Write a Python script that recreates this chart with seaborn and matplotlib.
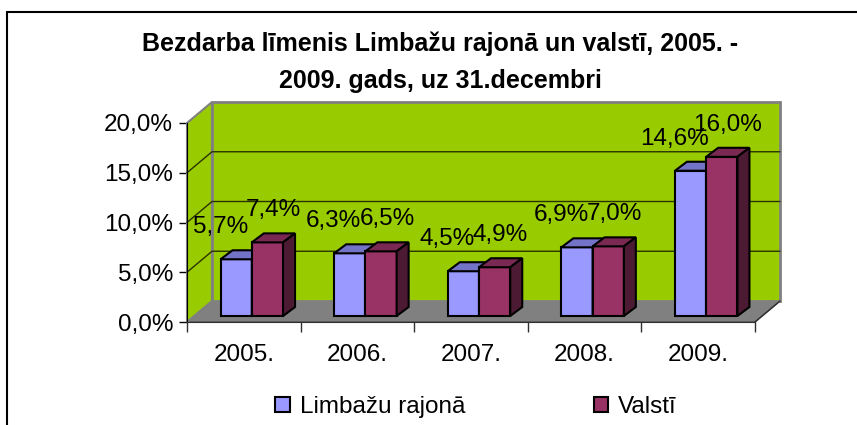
import seaborn as sns
import matplotlib.pyplot as plt
import pandas as pd
from matplotlib.patches import Polygon, Rectangle, Patch
from matplotlib.lines import Line2D
from matplotlib.transforms import offset_copy

sns.set_style("white")
plt.rcParams['font.family'] = ['Liberation Sans', 'DejaVu Sans']
plt.rcParams['text.color'] = 'black'
plt.rcParams['xtick.color'] = 'black'
plt.rcParams['ytick.color'] = 'black'

# data
years = ["2005.", "2006.", "2007.", "2008.", "2009."]
limbazi = [5.7, 6.3, 4.5, 6.9, 14.6]
valsti = [7.4, 6.5, 4.9, 7.0, 16.0]
series = ["Limbažu rajonā", "Valstī"]
title = "Bezdarba līmenis Limbažu rajonā un valstī, 2005. -\n2009. gads, uz 31.decembri"

front_cols = ["#9999FF", "#993366"]
top_cols = ["#7373C8", "#7A2952"]
side_cols = ["#5C5CA0", "#4D1A33"]
green = "#99CC00"
grey = "#808080"

df = pd.DataFrame({
    "year": years * 2,
    "value": limbazi + valsti,
    "series": [series[0]] * len(years) + [series[1]] * len(years),
})

fig = plt.figure(figsize=(8.57, 4.25), dpi=100)
ax = fig.add_axes([187 / 857, 103 / 425, 568 / 857, 199 / 425])
ax.set_xlim(-0.5, 4.5)
ax.set_ylim(0, 20)

# pixel -> data helpers
ppx = 568 / 5.0
ppy = 199 / 20.0
BDX, BDY = 25 / ppx, 21 / ppy      # back wall depth
DDX, DDY = 12 / ppx, 9 / ppy       # bar depth

# floor
ax.add_patch(Polygon([(-0.5, 0), (4.5, 0), (4.5 + BDX, BDY), (-0.5 + BDX, BDY)],
                     closed=True, facecolor=grey, edgecolor="#505050", lw=1,
                     clip_on=False, zorder=0.5))
# left wall
ax.add_patch(Polygon([(-0.5, 0), (-0.5, 20), (-0.5 + BDX, 20 + BDY), (-0.5 + BDX, BDY)],
                     closed=True, facecolor=green, edgecolor=grey, lw=1.5,
                     clip_on=False, zorder=0.6))
# back wall
ax.add_patch(Rectangle((-0.5 + BDX, BDY), 5, 20, facecolor=green, edgecolor=grey,
                       lw=2, clip_on=False, zorder=0.6))
for g in [5, 10, 15]:
    ax.plot([-0.5, -0.5 + BDX, 4.5 + BDX], [g, g + BDY, g + BDY],
            color="#2A3300", lw=1, clip_on=False, zorder=0.7)

sns.barplot(data=df, x="year", y="value", hue="series", palette=front_cols,
            width=0.55, edgecolor="black", linewidth=1.5, ax=ax, legend=False,
            saturation=1)

bar_tr = offset_copy(ax.transData, fig=fig, x=8, y=6, units="dots")
for i, cont in enumerate(ax.containers):
    for p in cont:
        p.set_transform(bar_tr)
        p.set_clip_on(False)
        p.set_zorder(3 + i)
        x0, w, h = p.get_x(), p.get_width(), p.get_height()
        top = Polygon([(x0, h), (x0 + w, h), (x0 + w + DDX, h + DDY), (x0 + DDX, h + DDY)],
                      closed=True, facecolor=top_cols[i], edgecolor="black", lw=1.5,
                      transform=bar_tr, clip_on=False, zorder=3 + i)
        side = Polygon([(x0 + w, 0), (x0 + w, h), (x0 + w + DDX, h + DDY), (x0 + w + DDX, DDY)],
                       closed=True, facecolor=side_cols[i], edgecolor="black", lw=1.5,
                       transform=bar_tr, clip_on=False, zorder=3 + i)
        ax.add_patch(top)
        ax.add_patch(side)
        dx = -8 if i == 0 else 14
        ax.annotate(f"{h:.1f}%".replace(".", ","), (x0 + w / 2, h),
                    xytext=(dx, 38), textcoords="offset pixels",
                    ha="center", va="center", fontsize=17.5, zorder=10,
                    annotation_clip=False)

# axes styling
for s in ["top", "right"]:
    ax.spines[s].set_visible(False)
ax.spines["left"].set_color("black")
ax.spines["bottom"].set_color("#303030")
ax.set_yticks([0, 5, 10, 15, 20])
ax.set_yticklabels([f"{v:.1f}%".replace(".", ",") for v in [0, 5, 10, 15, 20]])
ax.set_xticks(range(len(years)))
ax.set_xticklabels(years)
ax.set_xticks([k - 0.5 for k in range(len(years) + 1)], minor=True)
ax.tick_params(axis="y", direction="out", length=6, width=1, pad=4,
               labelsize=17.5, left=True)
ax.tick_params(axis="x", which="major", length=0, pad=16, labelsize=17.5)
ax.tick_params(axis="x", which="minor", direction="out", length=7, width=1,
               bottom=True, color="#303030")
ax.set_xlabel("")
ax.set_ylabel("")
ax.patch.set_alpha(0)
# floor right edge
ax.plot([4.5, 4.5 + BDX], [0, BDY], color="#303030", lw=1, clip_on=False, zorder=0.8)

fig.text(440 / 857, 1 - 62 / 425, title, ha="center", va="center",
         fontsize=18, fontweight="bold", linespacing=1.7)

handles = [Patch(facecolor=c, edgecolor="black", lw=1.5) for c in front_cols]
fig.legend(handles, series, loc="center", bbox_to_anchor=(476 / 857, 1 - 407 / 425),
           ncol=2, frameon=False, fontsize=17.5, handlelength=0.6, handleheight=0.6,
           handletextpad=0.4, columnspacing=5.3)

# outer frame
fig.add_artist(Line2D([7 / 857, 1], [1 - 12 / 425, 1 - 12 / 425], color="black", lw=1.5))
fig.add_artist(Line2D([7.5 / 857, 7.5 / 857], [0, 1 - 12 / 425], color="black", lw=1.5))

fig.savefig("out.png", dpi=100)
